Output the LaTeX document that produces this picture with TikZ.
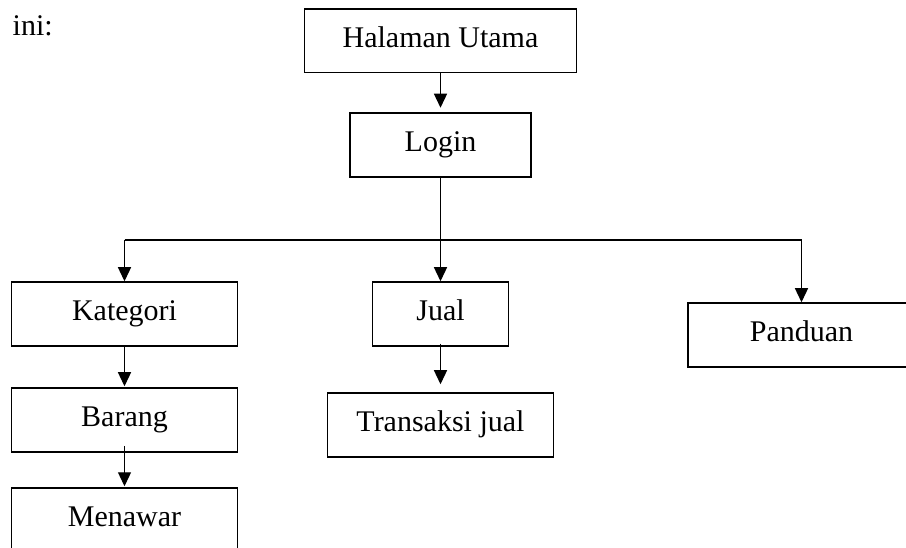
\documentclass[tikz,border=0pt]{standalone}
\usepackage{fontspec}
\setmainfont{Liberation Serif}
\usetikzlibrary{arrows.meta}
\begin{document}
\begin{tikzpicture}[x=1pt,y=-1pt,
  menubox/.style={draw, line width=1.5pt, inner sep=0pt, minimum height=64pt,
    text height=20pt, text depth=7pt,
    font=\fontsize{30}{34}\selectfont},
  link/.style={line width=1.3pt},
  arr/.style={line width=1.3pt, -{Triangle[width=13pt,length=14pt]}}]
  % page area
  \clip (0,0) rectangle (906,548);
  \fill[white] (0,0) rectangle (906,548);

  \node[anchor=base west, inner sep=0pt, font=\fontsize{30}{34}\selectfont] (intro) at (12.5,36) {ini:};

  % menu boxes
  \node[menubox, minimum width=272pt, minimum height=63.5pt] (hal) at (440.5,41) {Halaman Utama};
  \node[menubox, minimum width=181pt] (login) at (440.5,145) {Login};
  \node[menubox, minimum width=226pt] (kat) at (124.5,314) {Kategori};
  \node[menubox, minimum width=136pt] (jual) at (440.5,314) {Jual};
  \node[menubox, minimum width=227pt] (pand) at (801.5,335) {Panduan};
  \node[menubox, minimum width=226pt] (barang) at (124.5,420) {Barang};
  \node[menubox, minimum width=226pt] (trans) at (440.5,425) {Transaksi jual};
  \node[menubox, minimum width=226pt] (tawar) at (124.5,520) {Menawar};

  % branch line below Login
  \coordinate (bL) at (124.5,240);
  \coordinate (bM) at (440.5,240);
  \coordinate (bR) at (801.5,240);

  \draw[arr, shorten >=4.5pt] (hal) -- (login);
  \draw[link] (login) -- (bM);
  \draw[link] (bL) -- (bR);
  \draw[arr] (bL) -- (kat);
  \draw[arr] (bM) -- (jual);
  \draw[arr] (bR) -- (pand);
  \draw[arr, shorten >=1pt] (kat) -- (barang);
  \draw[arr, shorten >=1pt] ([yshift=7pt]barang.south) -- (tawar);
  \draw[arr, shorten >=8pt] ([yshift=3pt]jual.south) -- (trans);
\end{tikzpicture}
\end{document}
